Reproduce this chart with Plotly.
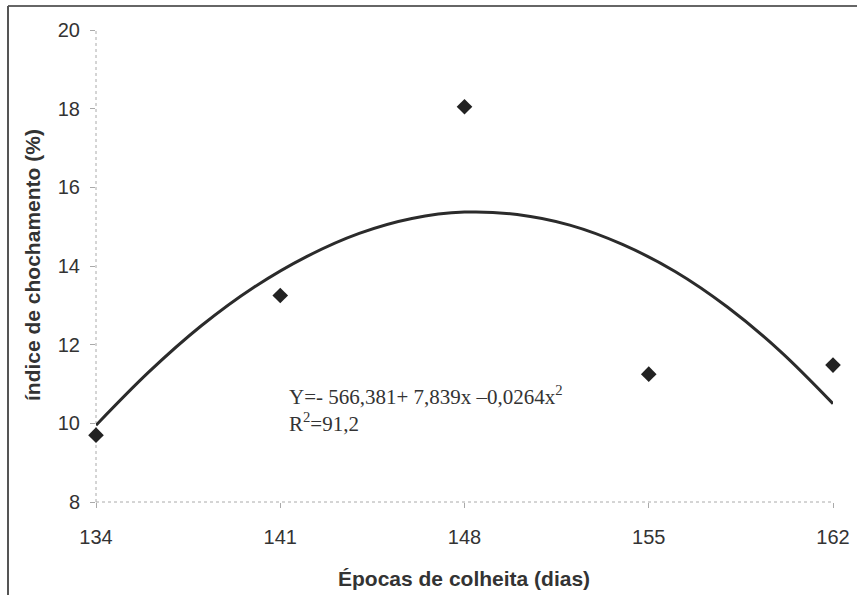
import plotly.graph_objects as go

# Observed data
epocas = [134, 141, 148, 155, 162]
chochamento = [9.7, 13.25, 18.05, 11.25, 11.48]

# Trend line
curve_x = [134, 136, 138, 140, 142, 144, 146, 148, 150, 152, 154, 156, 158, 160, 162]
curve_y = [9.95, 11.30, 12.48, 13.46, 14.24, 14.83, 15.21, 15.37, 15.31, 15.04, 14.55, 13.86, 12.95, 11.83, 10.50]

x_ticks = [134, 141, 148, 155, 162]
y_ticks = [8, 10, 12, 14, 16, 18, 20]

x_title = "<b>Épocas de colheita (dias)</b>"
y_title = "<b>índice de chochamento (%)</b>"
equation = "Y=- 566,381+ 7,839x –0,0264x<sup>2</sup><br>R<sup>2</sup>=91,2"

W, H = 859, 595
L, T = 96, 30
R = W - 833
B = H - 502
pw, ph = W - L - R, H - T - B

def px_x(p):
    return (p - L) / pw

def px_y(p):
    return (H - B - p) / ph

fig = go.Figure()
fig.add_trace(go.Scatter(x=curve_x, y=curve_y, mode="lines", cliponaxis=False,
                         line=dict(color="#2b2b2b", width=3, shape="spline"),
                         hoverinfo="skip", showlegend=False))
fig.add_trace(go.Scatter(x=epocas, y=chochamento, mode="markers", cliponaxis=False,
                         marker=dict(symbol="diamond", size=12, color="#222222"),
                         showlegend=False))

axis_font = dict(family="Liberation Sans, Arial, sans-serif", size=20, color="#333333")
title_font = dict(family="Liberation Sans, Arial, sans-serif", size=21, color="#333333")
eq_font = dict(family="Liberation Serif, Times New Roman, serif", size=21, color="#333333")

fig.update_xaxes(range=[134, 162], tickvals=x_ticks, ticktext=[str(v) for v in x_ticks],
                 showgrid=False, zeroline=False, showline=False, automargin=False,
                 ticks="outside", ticklen=5, tickcolor="#aaaaaa", tickwidth=1,
                 tickfont=axis_font, ticklabelstandoff=12)
fig.update_yaxes(range=[8, 20], tickvals=y_ticks, showgrid=False, zeroline=False, showline=False,
                 automargin=False,
                 ticks="outside", ticklen=5, tickcolor="#aaaaaa", tickwidth=1,
                 tickfont=axis_font, ticklabelstandoff=6)

shapes = [
    # dotted axis lines
    dict(type="line", xref="x domain", yref="y domain", x0=0, x1=1, y0=0, y1=0,
         line=dict(color="#aaaaaa", width=1, dash="dot"), layer="below"),
    dict(type="line", xref="x domain", yref="y domain", x0=0, x1=0, y0=0, y1=1,
         line=dict(color="#aaaaaa", width=1, dash="dot"), layer="below"),
    # outer frame (top and left edges visible)
    dict(type="line", xref="paper", yref="paper", x0=px_x(8), x1=px_x(857), y0=px_y(6), y1=px_y(6),
         line=dict(color="#666666", width=2)),
    dict(type="line", xref="paper", yref="paper", x0=px_x(8), x1=px_x(8), y0=px_y(6), y1=px_y(600),
         line=dict(color="#555555", width=2)),
]

# axis titles
fig.add_annotation(x=px_x(464), y=px_y(578), xref="paper", yref="paper",
                   xanchor="center", yanchor="middle", showarrow=False,
                   text=x_title, font=title_font)
fig.add_annotation(x=px_x(32), y=px_y(265), xref="paper", yref="paper",
                   xanchor="center", yanchor="middle", showarrow=False, textangle=-90,
                   text=y_title, font=title_font)

# regression equation
fig.add_annotation(x=px_x(287), y=px_y(409), xref="paper", yref="paper",
                   xanchor="left", yanchor="middle", showarrow=False, align="left",
                   text=equation, font=eq_font)

fig.update_layout(width=W, height=H, margin=dict(l=L, r=R, t=T, b=B),
                  plot_bgcolor="white", paper_bgcolor="white", shapes=shapes)

# remove the default page margin so the figure fills the window exactly
fig.write_html("out.html", config={"displayModeBar": False},
               post_script="document.body.style.margin='0px';")
